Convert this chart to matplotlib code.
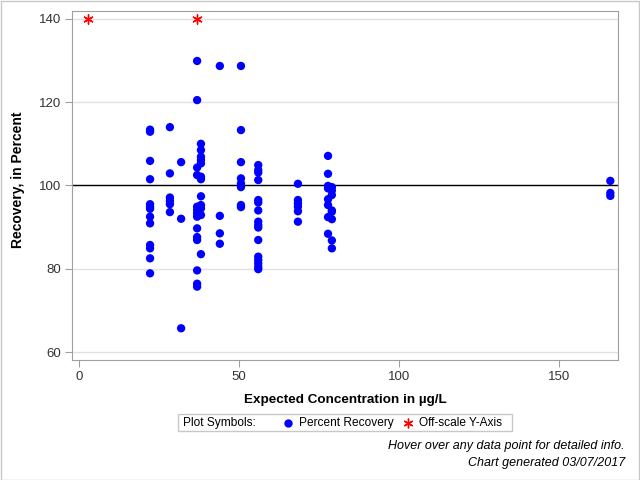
import numpy as np
import matplotlib
matplotlib.use("Agg")
import matplotlib.pyplot as plt
from matplotlib.lines import Line2D
from matplotlib.patches import Rectangle

plt.rcParams['font.family'] = ['Liberation Sans', 'DejaVu Sans']

# expected concentration (ug/L) -> recovery values (%)
conc_groups = [22.2, 28.4, 31.9, 36.9, 38.1, 44.0, 50.6, 56.0, 68.4, 77.8, 79.0, 166.0]
recovery_groups = [
    [113.4, 112.9, 105.9, 101.5, 95.5, 94.9, 94.4, 92.5, 90.9, 85.7, 84.9, 82.5, 78.9],
    [114.0, 102.9, 97.1, 96.3, 95.5, 93.6],
    [105.6, 92.0, 65.7],
    [129.9, 120.5, 104.3, 102.5, 94.9, 94.1, 93.3, 92.5, 89.7, 87.6, 86.9, 79.6, 76.4, 75.7],
    [110.0, 108.5, 106.9, 106.1, 105.3, 102.1, 101.5, 97.4, 95.3, 94.5, 92.9, 83.5],
    [128.7, 92.7, 88.5, 86.0],
    [128.7, 113.3, 105.6, 101.7, 100.5, 99.6, 95.3, 94.8],
    [104.9, 103.7, 103.1, 101.3, 96.5, 95.9, 94.0, 91.3, 90.5, 89.9, 86.9, 82.9, 82.1, 81.3, 80.5, 79.9],
    [100.4, 96.5, 95.7, 94.9, 93.8, 91.3],
    [107.1, 102.8, 99.9, 99.3, 96.7, 95.3, 92.4, 88.4],
    [99.6, 98.8, 97.7, 94.0, 93.7, 91.9, 86.8, 84.9],
    [101.1, 98.2, 97.5],
]
offscale_conc = [2.8, 36.9]
offscale_val = [140, 140]

conc = np.concatenate([[c] * len(r) for c, r in zip(conc_groups, recovery_groups)])
recovery = np.concatenate(recovery_groups)

fig = plt.figure(figsize=(6.4, 4.8), dpi=100)
ax = fig.add_axes([72 / 640, 1 - 360 / 480, (618 - 72) / 640, (360 - 11) / 480])

ax.set_xlim(-2.19, 168.4)
ax.set_ylim(58.08, 141.9)
ax.set_yticks([60, 80, 100, 120, 140])
ax.set_xticks([0, 50, 100, 150])
ax.grid(axis='y', color='#e1e1e1', lw=1)
ax.set_axisbelow(True)
ax.axhline(100, color='black', lw=1, zorder=2)

ax.scatter(conc, recovery, s=36, color='#0000ff', edgecolors='none', zorder=3)
ax.scatter(offscale_conc, offscale_val, s=45, marker=(6, 2, 0), color='red', lw=1, zorder=3)

for s in ax.spines.values():
    s.set_color('#a0a0a0')
ax.tick_params(direction='out', length=5, color='#a0a0a0', labelsize=9.5, labelcolor='#333333', pad=3)
ax.set_xlabel('Expected Concentration in µg/L', fontsize=9.7, fontweight='bold')
ax.xaxis.set_label_coords(0.5, -34 / 349)
ax.set_ylabel('Recovery, in Percent', fontsize=10, fontweight='bold')
ax.yaxis.set_label_coords(-47 / 546, 0.516)

# legend box
fig.patches.append(Rectangle((178 / 640, 1 - 431 / 480), (512 - 178) / 640, 17 / 480,
                             transform=fig.transFigure, fill=False, edgecolor='#c8c8c8', lw=1))
ly = 1 - 423 / 480
fig.text(183 / 640, ly, 'Plot Symbols:', fontsize=8.6, va='center', ha='left')
fig.lines.append(Line2D([288 / 640], [ly], transform=fig.transFigure, marker='o', ms=6,
                        color='#0000ff', mec='none', ls='none'))
fig.text(299 / 640, ly, 'Percent Recovery', fontsize=8.6, va='center', ha='left')
fig.lines.append(Line2D([408 / 640], [ly], transform=fig.transFigure, marker=(6, 2, 0), ms=7,
                        color='red', mew=1, ls='none'))
fig.text(419 / 640, ly, 'Off-scale Y-Axis', fontsize=8.6, va='center', ha='left')

fig.text(625 / 640, 1 - 446 / 480, 'Hover over any data point for detailed info.', fontsize=9,
         style='italic', ha='right', va='center')
fig.text(625 / 640, 1 - 463 / 480, 'Chart generated 03/07/2017', fontsize=9,
         style='italic', ha='right', va='center')

fig.patches.append(Rectangle((0.5 / 640, 0.5 / 480), 638.5 / 640, 478.5 / 480, transform=fig.transFigure,
                             fill=False, edgecolor='#c8c8c8', lw=1))

fig.savefig('out.png', dpi=100)
